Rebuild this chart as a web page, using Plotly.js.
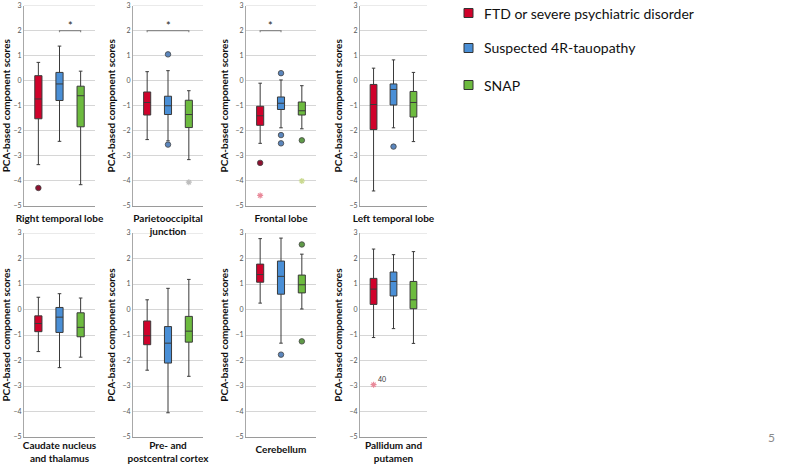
<!DOCTYPE html>
<html>
<head>
<meta charset="utf-8">
<script src="https://cdn.plot.ly/plotly-3.0.1.min.js"></script>
<style>
  html, body { margin: 0; padding: 0; background: #ffffff; }
  #chart { width: 788px; height: 464px; }
</style>
</head>
<body>
<div id="chart"></div>
<script>
// ---------- data ----------
const regions = ['Right temporal lobe', 'Parietooccipital<br>junction', 'Frontal lobe', 'Left temporal lobe',
                 'Caudate nucleus<br>and thalamus', 'Pre- and<br>postcentral cortex', 'Cerebellum', 'Pallidum and<br>putamen'];
const groups = ['FTD or severe psychiatric disorder', 'Suspected 4R-tauopathy', 'SNAP'];
const yTitle = 'PCA-based component scores';
const yMin = -5, yMax = 3, yStep = 1;

// FTD or severe psychiatric disorder (per region)
const ftdUpper  = [0.73, 0.36, -0.10, 0.50, 0.48, 0.38, 2.78, 2.37];
const ftdQ3     = [0.20, -0.45, -1.02, -0.15, -0.25, -0.45, 1.78, 1.22];
const ftdMedian = [-0.73, -0.87, -1.40, -0.95, -0.55, -1.03, 1.37, 0.80];
const ftdQ1     = [-1.52, -1.37, -1.78, -1.95, -0.87, -1.38, 1.07, 0.20];
const ftdLower  = [-3.35, -2.35, -2.50, -4.40, -1.65, -2.38, 0.25, -1.10];

// Suspected 4R-tauopathy
const tauUpper  = [1.38, 0.40, 0.03, 0.83, 0.62, 0.83, 2.80, 2.15];
const tauQ3     = [0.33, -0.62, -0.65, -0.13, 0.08, -0.67, 1.90, 1.47];
const tauMedian = [-0.13, -1.00, -0.90, -0.35, -0.30, -1.32, 1.30, 1.10];
const tauQ1     = [-0.79, -1.35, -1.15, -0.97, -0.90, -2.10, 0.60, 0.53];
const tauLower  = [-2.42, -2.40, -1.88, -1.88, -2.28, -4.05, -1.32, -0.75];

// SNAP
const snapUpper  = [0.38, -0.40, -0.20, 0.33, 0.45, 1.18, 2.17, 2.27];
const snapQ3     = [-0.22, -0.78, -0.85, -0.43, -0.13, -0.27, 1.35, 1.10];
const snapMedian = [-0.60, -1.35, -1.20, -0.87, -0.70, -0.85, 0.97, 0.38];
const snapQ1     = [-1.84, -1.87, -1.37, -1.45, -1.07, -1.28, 0.65, 0.03];
const snapLower  = [-4.15, -3.15, -1.92, -2.43, -1.87, -2.62, 0.02, -1.33];

// outliers (o = outlier circle, * = extreme value)
const outRegion = [0, 1, 1, 1, 2, 2, 2, 2, 2, 2, 2, 3, 6, 6, 6, 7];
const outGroup  = [0, 1, 1, 2, 0, 0, 1, 1, 1, 2, 2, 1, 1, 2, 2, 0];
const outValue  = [-4.28, 1.05, -2.55, -4.05, -3.28, -4.58, 0.30, -2.17, -2.50, -2.38, -4.00, -2.63, -1.77, 2.55, -1.25, -2.95];
const outKind   = ['o', 'o', 'o', '*', 'o', '*', 'o', 'o', 'o', 'o', '*', 'o', 'o', 'o', 'o', '*'];
const outLabel  = ['', '', '', '', '', '', '', '', '', '', '', '', '', '', '', '40'];

// significance brackets
const sigRegion = [0, 1, 2];
const sigFrom   = [1, 0, 0];
const sigTo     = [2, 2, 1];
const sigLevel  = [2.0, 2.0, 2.0];
const sigMark   = ['*', '*', '*'];

const pageNumber = '5';

// ---------- styling ----------
const fills = ['#d0022b', '#4a8fd6', '#6dbb3f'];
const outFill = ['#8e1030', '#5b86bd', '#5f9a48'];
const extremeCol = ['#e98a9a', '#b9b9b9', '#c9d98f'];
const gridCol = '#d6d6d6';
const FONT = 'Lato, "Open Sans", sans-serif';

const W = 788, H = 464;
const colPx = [[24, 95], [133, 203], [246, 316], [360, 427]];
const rowPx = [[5.5, 206], [233, 437]];

const stats = [
  [ftdQ1, ftdMedian, ftdQ3, ftdLower, ftdUpper],
  [tauQ1, tauMedian, tauQ3, tauLower, tauUpper],
  [snapQ1, snapMedian, snapQ3, snapLower, snapUpper]
];

const traces = [];
const layout = {
  width: W, height: H,
  margin: {l: 0, r: 0, t: 0, b: 0},
  paper_bgcolor: '#ffffff', plot_bgcolor: '#ffffff',
  showlegend: false,
  font: {family: FONT, color: '#222'},
  shapes: [], annotations: []
};

for (let i = 0; i < regions.length; i++) {
  const c = i % 4, r = Math.floor(i / 4);
  const ax = i === 0 ? '' : String(i + 1);
  layout['xaxis' + ax] = {
    domain: [colPx[c][0] / W, colPx[c][1] / W],
    anchor: 'y' + ax,
    range: [-0.68, 2.68], type: 'linear',
    showgrid: false, zeroline: false, showticklabels: false,
    showline: true, linecolor: '#9a9a9a', linewidth: 1,
    title: {text: regions[i], font: {family: FONT, size: 10, weight: 700, color: '#111'}, standoff: 8}
  };
  layout['yaxis' + ax] = {
    domain: [1 - rowPx[r][1] / H, 1 - rowPx[r][0] / H],
    anchor: 'x' + ax,
    range: [yMin, yMax], tickmode: 'linear', tick0: yMin, dtick: yStep,
    ticklabeloverflow: 'allow',
    showgrid: true, gridcolor: gridCol, zeroline: false,
    showline: true, linecolor: '#a8a8a8',
    tickfont: {family: FONT, size: 7, color: '#555'},
    title: {text: yTitle, font: {family: FONT, size: 10, weight: 700, color: '#111'}, standoff: 4}
  };
  // top gridline (Plotly hides grid lines on the domain edge)
  layout.shapes.push({
    type: 'line', xref: 'x' + ax + ' domain', yref: 'y' + ax,
    x0: 0, x1: 1, y0: yMax, y1: yMax, layer: 'below',
    line: {color: gridCol, width: 1}
  });

  for (let g = 0; g < 3; g++) {
    const s = stats[g];
    traces.push({
      type: 'box', name: groups[g],
      x: [g], q1: [s[0][i]], median: [s[1][i]], q3: [s[2][i]],
      lowerfence: [s[3][i]], upperfence: [s[4][i]],
      width: 0.34, whiskerwidth: 0.5,
      fillcolor: fills[g],
      line: {color: '#3a3a3a', width: 1},
      boxpoints: false,
      xaxis: 'x' + ax, yaxis: 'y' + ax,
      showlegend: false, hoverinfo: 'y'
    });
  }
}

// outliers
for (let k = 0; k < outValue.length; k++) {
  const i = outRegion[k], g = outGroup[k];
  const ax = i === 0 ? '' : String(i + 1);
  const extreme = outKind[k] === '*';
  const starCol = i === 1 ? '#bdbdbd' : extremeCol[g];
  traces.push({
    type: 'scatter', mode: 'markers',
    x: [g], y: [outValue[k]],
    xaxis: 'x' + ax, yaxis: 'y' + ax,
    marker: extreme
      ? {symbol: 'asterisk-open', size: 5, color: starCol, line: {color: starCol, width: 1.2}}
      : {symbol: 'circle', size: 5.5, color: outFill[g], line: {color: '#444', width: 0.8}},
    showlegend: false, hoverinfo: 'y'
  });
  if (outLabel[k]) {
    layout.annotations.push({
      xref: 'x' + ax, yref: 'y' + ax, x: g, y: outValue[k],
      text: outLabel[k], showarrow: false, xanchor: 'left', yanchor: 'bottom',
      xshift: 2, yshift: 0, font: {family: FONT, size: 7, color: '#333'}
    });
  }
}

// significance brackets
for (let k = 0; k < sigRegion.length; k++) {
  const i = sigRegion[k];
  const ax = i === 0 ? '' : String(i + 1);
  const a = sigFrom[k], b = sigTo[k], yv = sigLevel[k];
  layout.shapes.push({
    type: 'path', xref: 'x' + ax, yref: 'y' + ax,
    path: `M ${a},${yv - 0.07} L ${a},${yv} L ${b},${yv} L ${b},${yv - 0.07}`,
    line: {color: '#8a8a8a', width: 1.2}
  });
  layout.annotations.push({
    xref: 'x' + ax, yref: 'y' + ax, x: (a + b) / 2, y: yv,
    text: sigMark[k], showarrow: false, yanchor: 'bottom', yshift: -3,
    font: {family: FONT, size: 11, color: '#222'}
  });
}

// custom legend
const legY = [13, 48, 85];
for (let g = 0; g < groups.length; g++) {
  layout.shapes.push({
    type: 'rect', xref: 'paper', yref: 'paper',
    x0: 464 / W, x1: 473 / W, y0: 1 - (legY[g] + 4.5) / H, y1: 1 - (legY[g] - 4.5) / H,
    fillcolor: fills[g], line: {color: '#333', width: 1}
  });
  layout.annotations.push({
    xref: 'paper', yref: 'paper', x: 482 / W, y: 1 - legY[g] / H,
    xanchor: 'left', yanchor: 'middle', showarrow: false,
    text: groups[g], font: {family: FONT, size: 14, color: '#111'}
  });
}

// page number
layout.annotations.push({
  xref: 'paper', yref: 'paper', x: 771 / W, y: 1 - 437 / H,
  xanchor: 'center', yanchor: 'middle', showarrow: false,
  text: pageNumber, font: {family: FONT, size: 12, color: '#8a8a8a'}
});

Plotly.newPlot('chart', traces, layout, {staticPlot: true, displayModeBar: false});
</script>
</body>
</html>
